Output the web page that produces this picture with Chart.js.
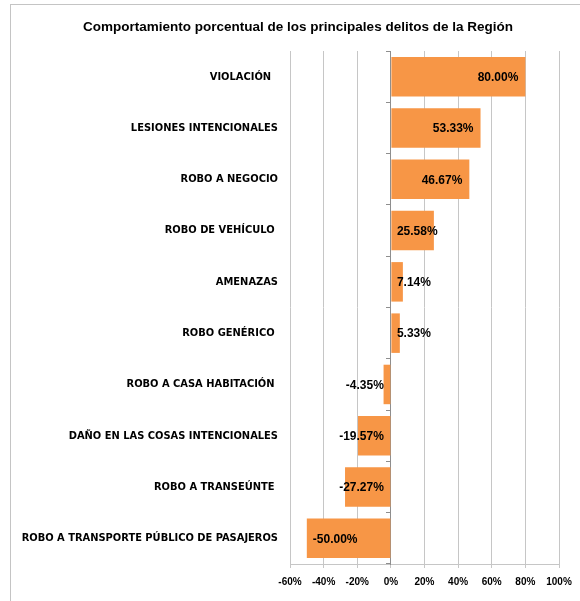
<!DOCTYPE html>
<html>
<head>
<meta charset="utf-8">
<script src="https://cdn.jsdelivr.net/npm/chart.js@4.4.0/dist/chart.umd.min.js"></script>
<style>
  html, body { margin: 0; padding: 0; background: #ffffff; }
  #wrap { position: relative; width: 580px; height: 601px; overflow: hidden; }
  #frame { position: absolute; left: 10px; top: 4px; width: 700px; height: 700px; border: 1px solid #c4c4c4; box-sizing: border-box; }
  canvas { position: absolute; left: 0; top: 0; }
</style>
</head>
<body>
<div id="wrap">
  <div id="frame"></div>
  <canvas id="c" width="580" height="601"></canvas>
</div>
<script>
const titleText = "Comportamiento porcentual de los principales delitos de la Región";
const categories = [
  "VIOLACIÓN  ",
  "LESIONES INTENCIONALES",
  "ROBO A NEGOCIO",
  "ROBO DE VEHÍCULO ",
  "AMENAZAS",
  "ROBO GENÉRICO ",
  "ROBO A CASA HABITACIÓN ",
  "DAÑO EN LAS COSAS INTENCIONALES",
  "ROBO A TRANSEÚNTE ",
  "ROBO A TRANSPORTE PÚBLICO DE PASAJEROS"
];
const percentValues = [80.00, 53.33, 46.67, 25.58, 7.14, 5.33, -4.35, -19.57, -27.27, -50.00];
const xTickMin = -60;
const xTickMax = 100;
const xTickStep = 20;

const barColor = "#F79646";
const gridColor = "#c6c6c6";
const axisColor = "#8e8e8e";

const titlePlugin = {
  id: "customTitle",
  afterDraw(chart) {
    const ctx = chart.ctx;
    ctx.save();
    ctx.font = "bold 13.5px 'Liberation Sans', Arial, sans-serif";
    ctx.fillStyle = "#000";
    ctx.textAlign = "center";
    ctx.textBaseline = "middle";
    ctx.fillText(titleText, 298, 27);
    ctx.restore();
  }
};

const labelPlugin = {
  id: "barLabels",
  afterDatasetsDraw(chart) {
    const ctx = chart.ctx;
    const meta = chart.getDatasetMeta(0);
    const zero = chart.scales.x.getPixelForValue(0);
    ctx.save();
    ctx.font = "bold 12px 'Liberation Sans', Arial, sans-serif";
    ctx.fillStyle = "#000";
    ctx.textBaseline = "middle";
    ctx.textAlign = "left";
    meta.data.forEach((bar, i) => {
      const v = percentValues[i];
      const txt = v.toFixed(2) + "%";
      const w = ctx.measureText(txt).width;
      let left;
      if (v >= 0) {
        left = bar.x - 7 - w;
        if (left < zero + 6) left = zero + 6;
      } else {
        left = bar.x + 6;
        if (left + w > zero - 7) left = zero - 7 - w;
      }
      ctx.fillText(txt, left, bar.y + 1);
    });
    ctx.restore();
  }
};

new Chart(document.getElementById("c"), {
  type: "bar",
  data: {
    labels: categories,
    datasets: [{
      data: percentValues,
      backgroundColor: barColor,
      borderWidth: 0,
      barPercentage: 0.77,
      categoryPercentage: 1.0,
      yAxisID: "y"
    }]
  },
  options: {
    indexAxis: "y",
    responsive: false,
    animation: false,
    devicePixelRatio: 1,
    layout: { padding: { left: 0, right: 21, top: 51, bottom: 0 } },
    plugins: { legend: { display: false }, tooltip: { enabled: false }, title: { display: false } },
    scales: {
      x: {
        type: "linear",
        min: xTickMin,
        max: xTickMax,
        ticks: {
          stepSize: xTickStep,
          callback: (v) => v + "%",
          font: { family: "'Liberation Sans', Arial, sans-serif", size: 10, weight: "bold" },
          color: "#000",
          padding: 8,
          maxRotation: 0
        },
        grid: {
          color: (c) => (c.tick && c.tick.value === 0 ? axisColor : gridColor),
          lineWidth: 1,
          drawTicks: true,
          tickLength: 4,
          tickColor: gridColor
        },
        border: { display: true, color: gridColor },
        afterFit: (s) => { s.height = 37; }
      },
      y: {
        type: "category",
        position: "left",
        ticks: {
          font: { family: "'DejaVu Sans Condensed', 'Liberation Sans Narrow', Arial, sans-serif", size: 11, weight: "bold" },
          color: "#000",
          padding: 4,
          autoSkip: false
        },
        grid: { display: false },
        border: { display: false },
        afterFit: (s) => { s.width = 290; }
      },
      y2: {
        type: "category",
        position: { x: 0 },
        labels: categories,
        ticks: { display: false },
        grid: { display: true, drawOnChartArea: false, drawTicks: true, tickLength: 4, offset: true, color: axisColor },
        border: { display: true, color: axisColor }
      }
    }
  },
  plugins: [titlePlugin, labelPlugin]
});
</script>
</body>
</html>
